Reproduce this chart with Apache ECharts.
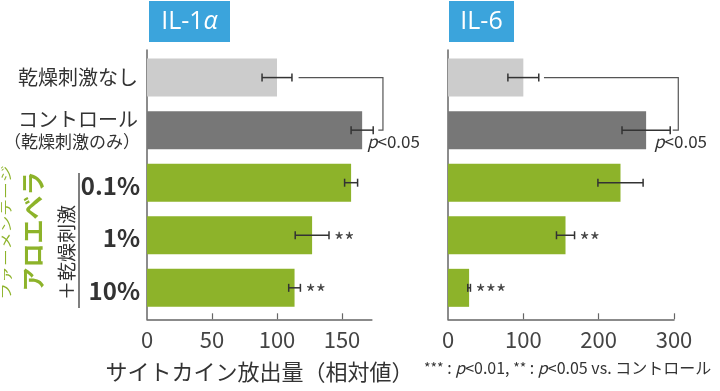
<!DOCTYPE html>
<html><head><meta charset="utf-8">
<script src="https://cdn.jsdelivr.net/npm/echarts@6/dist/echarts.min.js"></script>
<style>html,body{margin:0;padding:0;background:#fff}#c{width:720px;height:391px}</style>
</head><body><div id="c"></div>
<script>
// ---- data ----
const categories = ['乾燥刺激なし', 'コントロール', '0.1%', '1%', '10%'];
const categorySubLabels = ['', '（乾燥刺激のみ）', '', '', ''];
const il1aValues = [100, 165.5, 157, 127, 113.5];
const il1aErrors = [11.5, 8.5, 5, 13, 4.5];
const il1aMarks = ['', '', '', '**', '**'];
const il6Values = [100, 263, 229, 156, 28];
const il6Errors = [20.5, 32, 30, 12, 1.8];
const il6Marks = ['', '', '', '**', '***'];
const il1aTicks = [0, 50, 100, 150];
const il6Ticks = [0, 100, 200, 300];
const il1aMax = 173;
const il6Max = 300;
// significance bracket: [start, corner, end, label anchor] in axis units
const il1aBracket = [116.6, 181.5, 177.9, 169.2];
const il6Bracket = [127.4, 305.7, 298.3, 273.5];
const panelTitles = ['IL-1{a|α}', 'IL-6'];
const axisTitle = 'サイトカイン放出量（相対値）';
const groupLabelSmall = 'ファーメンテージ';
const groupLabelMain = 'アロエベラ';
const groupLabelSub = '＋乾燥刺激';
const footnote = '{s|***} : {i|p}<0.01, {s|**} : {i|p}<0.05 vs. コントロール';

// ---- styles ----
const JP = '"Noto Sans CJK JP", "Noto Sans", sans-serif';
const TXT = '#333';
const AX = '#666';
const barColors = ['#cccccc', '#777777', '#8db32a', '#8db32a', '#8db32a'];
const BLUE = '#3ba4dc';
const GREEN = '#8db32a';

const chart = echarts.init(document.getElementById('c'), null, {renderer: 'canvas'});

function frameX(max, ticks, gi, withName) {
  const ax = {
    type: 'value', gridIndex: gi, min: 0, max: max,
    axisLine: {show: true, lineStyle: {color: AX, width: 1.5}},
    axisTick: {show: true, inside: true, length: 6, lineStyle: {color: AX, width: 1.2}, customValues: ticks.slice(1)},
    axisLabel: {show: true, margin: 9, fontSize: 22, color: '#444', fontFamily: JP, customValues: ticks},
    splitLine: {show: false}
  };
  if (withName) {
    ax.name = axisTitle; ax.nameLocation = 'middle'; ax.nameGap = 41;
    ax.nameTextStyle = {fontSize: 22, color: TXT, fontFamily: JP};
  }
  return ax;
}
function hiddenX(max, gi) {
  return {type: 'value', gridIndex: gi, min: 0, max: max, show: false};
}
function frameY(gi) {
  return {type: 'value', gridIndex: gi, min: 0, max: 1,
    axisLine: {show: true, lineStyle: {color: AX, width: 1.5}},
    axisTick: {show: false}, axisLabel: {show: false}, splitLine: {show: false}};
}
function catY(gi, labels) {
  return {type: 'category', gridIndex: gi, data: categories, inverse: true,
    axisLine: {show: false}, axisTick: {show: false}, splitLine: {show: false},
    axisLabel: labels ? {
      show: true, margin: 7, align: 'right',
      formatter: function (v, i) {
        if (categorySubLabels[i]) return '{a|' + v + '}\n{b|' + categorySubLabels[i] + '}';
        if (/%$/.test(v)) return '{p|' + v + '}';
        return '{a|' + v + '}';
      },
      rich: {
        a: {fontSize: 20, lineHeight: 22, color: TXT, fontFamily: JP, padding: [0, 2, 0, 0]},
        b: {fontSize: 17, lineHeight: 21, color: TXT, fontFamily: JP},
        p: {fontSize: 24, fontWeight: 'bold', color: TXT, fontFamily: JP, padding: [6, 0, 0, 0]}
      }
    } : {show: false}
  };
}
function errRender(marks) {
  return function (params, api) {
    const lo = api.coord([api.value(0), api.value(2)]);
    const hi = api.coord([api.value(1), api.value(2)]);
    const cap = 4;
    const st = {stroke: '#333', lineWidth: 1.5};
    const ch = [
      {type: 'line', shape: {x1: lo[0], y1: lo[1], x2: hi[0], y2: hi[1]}, style: st},
      {type: 'line', shape: {x1: lo[0], y1: lo[1] - cap, x2: lo[0], y2: lo[1] + cap}, style: st},
      {type: 'line', shape: {x1: hi[0], y1: hi[1] - cap, x2: hi[0], y2: hi[1] + cap}, style: st}
    ];
    const m = marks[params.dataIndex];
    if (m) ch.push({type: 'text', x: hi[0] + 5, y: hi[1] + 5,
      style: {text: m, fontSize: 22, fill: '#444', align: 'left', verticalAlign: 'middle', fontFamily: JP}});
    return {type: 'group', children: ch};
  };
}
function bracketRender(params, api) {
  const a = api.coord([api.value(0), 0]);
  const b = api.coord([api.value(1), 0]);
  const c = api.coord([api.value(1), 1]);
  const d = api.coord([api.value(2), 1]);
  const t = api.coord([api.value(3), 1]);
  return {type: 'group', children: [
    {type: 'polyline', shape: {points: [a, b, c, d]}, style: {stroke: '#555', lineWidth: 1.2, fill: null}},
    {type: 'text', x: t[0], y: t[1] + 11, style: {text: '{i|p}<0.05', fontSize: 17, fill: TXT, fontFamily: JP,
      align: 'left', verticalAlign: 'middle', rich: {i: {fontStyle: 'italic', fontSize: 17, fill: TXT, fontFamily: JP}}}}
  ]};
}
function barSeries(vals, xi, yi) {
  return {type: 'bar', xAxisIndex: xi, yAxisIndex: yi, barWidth: 38, data: vals,
    itemStyle: {color: function (p) { return barColors[p.dataIndex]; }}, z: 3};
}
function errSeries(vals, errs, marks, xi, yi) {
  return {type: 'custom', xAxisIndex: xi, yAxisIndex: yi, z: 5,
    data: vals.map(function (v, i) { return [v - errs[i], v + errs[i], i]; }),
    encode: {x: [0, 1], y: 2}, renderItem: errRender(marks)};
}
function bracketSeries(br, xi, yi) {
  return {type: 'custom', xAxisIndex: xi, yAxisIndex: yi, z: 5, clip: false,
    data: [br], encode: {x: [0, 1, 2, 3]}, renderItem: bracketRender};
}
function titleBox(x, w, text) {
  return {type: 'group', children: [
    {type: 'rect', shape: {x: x, y: 1, width: w, height: 41}, style: {fill: BLUE}},
    {type: 'text', x: x + w / 2, y: 22, style: {text: text, fontSize: 25, fill: '#fff', fontFamily: '"Open Sans", sans-serif',
      align: 'center', verticalAlign: 'middle', rich: {a: {fontStyle: 'italic', fontSize: 25, fill: '#fff', fontFamily: '"Open Sans", sans-serif'}}}}
  ]};
}

const L = 147, R = 448, W1 = il1aMax * 1.3, W2 = il6Max * 0.7533;
const option = {
  animation: false,
  backgroundColor: '#fff',
  grid: [
    {left: L, top: 50, width: W1, height: 269.3},
    {left: L, top: 51.3, width: W1, height: 262.8},
    {left: R, top: 50, width: W2, height: 269.3},
    {left: R, top: 51.3, width: W2, height: 262.8}
  ],
  xAxis: [frameX(il1aMax, il1aTicks, 0, true), hiddenX(il1aMax, 1), frameX(il6Max, il6Ticks, 2, false), hiddenX(il6Max, 3)],
  yAxis: [frameY(0), catY(1, true), frameY(2), catY(3, false)],
  series: [
    barSeries(il1aValues, 1, 1),
    errSeries(il1aValues, il1aErrors, il1aMarks, 1, 1),
    bracketSeries(il1aBracket, 1, 1),
    barSeries(il6Values, 3, 3),
    errSeries(il6Values, il6Errors, il6Marks, 3, 3),
    bracketSeries(il6Bracket, 3, 3)
  ],
  graphic: [
    titleBox(149, 81, panelTitles[0]),
    titleBox(449, 65, panelTitles[1]),
    {type: 'line', shape: {x1: 79, y1: 173, x2: 79, y2: 308}, style: {stroke: '#555', lineWidth: 1.5}},
    {type: 'text', x: 66.5, y: 252.5, rotation: Math.PI / 2,
      style: {text: groupLabelSub, fontSize: 19, fill: TXT, fontFamily: JP, align: 'center', verticalAlign: 'middle'}},
    {type: 'text', x: 33, y: 231.5, rotation: Math.PI / 2,
      style: {text: groupLabelMain, fontSize: 24, fontWeight: 'bold', fill: GREEN, fontFamily: JP, align: 'center', verticalAlign: 'middle'}},
    {type: 'text', x: 6, y: 232.5, rotation: Math.PI / 2, scaleX: 1.4,
      style: {text: groupLabelSmall, fontSize: 12, fill: GREEN, fontFamily: JP, align: 'center', verticalAlign: 'middle'}},
    {type: 'text', x: 424, y: 367.5,
      style: {text: footnote, fontSize: 16, fill: TXT, fontFamily: JP, align: 'left', verticalAlign: 'middle',
        rich: {s: {fontSize: 14, fill: TXT, fontFamily: JP}, i: {fontStyle: 'italic', fontSize: 16, fill: TXT, fontFamily: JP}}}}
  ]
};
chart.setOption(option);
</script></body></html>
